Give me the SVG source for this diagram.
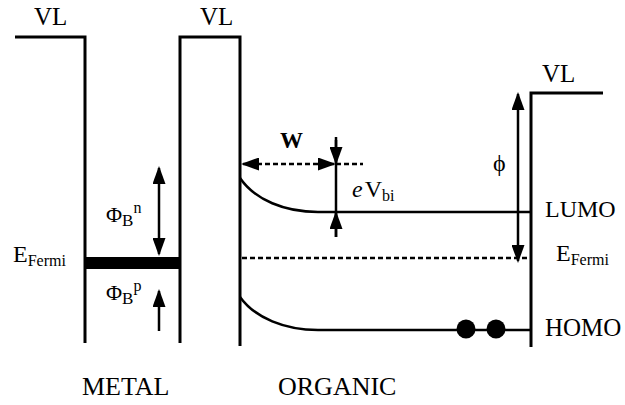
<svg xmlns="http://www.w3.org/2000/svg" width="625" height="405" viewBox="0 0 625 405">
<style>
.ln{fill:none;stroke:#000;stroke-width:3}
.thin{fill:none;stroke:#000;stroke-width:2.5}
.dash{fill:none;stroke:#000;stroke-width:2.5;stroke-dasharray:5 3}
.ar{marker-end:url(#ah)}
.ar2{marker-start:url(#ah);marker-end:url(#ah)}
text{font-family:Liberation Serif,serif}
</style>
<defs>
<marker id="ah" viewBox="0 0 18 13" refX="16" refY="6.5" markerWidth="18" markerHeight="13" markerUnits="userSpaceOnUse" orient="auto-start-reverse">
<path d="M0,0 L18,6.5 L0,13 z" fill="#000"/>
</marker>
</defs>
<rect width="625" height="405" fill="#fff"/>
<g fill="#000">
<g id="metal">
<polyline class="ln" points="15,37 85,37 85,343"/>
<rect x="85" y="257" width="95" height="12" fill="#000"/>
<text x="34" y="25" font-size="25" font-family="Liberation Serif">VL</text>
<text x="13" y="262" font-size="24" font-family="Liberation Serif">E<tspan font-size="16" dy="4">Fermi</tspan></text>
<text x="82" y="395" font-size="26" font-family="Liberation Serif">METAL</text>
</g>
<g id="barrier">
<polyline class="ln" points="180,343 180,37 240,37 240,346"/>
<text x="200" y="25" font-size="25" font-family="Liberation Serif">VL</text>
</g>
<g id="organic">
<path class="thin" d="M240,178 C255,200 285,212 318,212 L531,212"/>
<path class="thin" d="M240,297 C255,318 285,330 318,330 L531,330"/>
<polyline class="ln" points="531,347 531,93 603,93"/>
<circle cx="466" cy="329" r="9.5" fill="#000"/>
<circle cx="496" cy="329" r="9.5" fill="#000"/>
<text x="542" y="82" font-size="25" font-family="Liberation Serif">VL</text>
<text x="545" y="217" font-size="24" font-family="Liberation Serif">LUMO</text>
<text x="556" y="261" font-size="24" font-family="Liberation Serif">E<tspan font-size="16" dy="4">Fermi</tspan></text>
<text x="545" y="336" font-size="25" font-family="Liberation Serif">HOMO</text>
<text x="278" y="395" font-size="26" font-family="Liberation Serif">ORGANIC</text>
</g>
<g id="connectors">
<line class="dash" x1="242" y1="258" x2="530" y2="258"/>
<line class="thin ar2" x1="159" y1="168" x2="159" y2="254"/>
<line class="thin ar" x1="159" y1="331" x2="159" y2="291"/>
<line class="dash ar2" x1="334" y1="164" x2="243" y2="164"/>
<line class="dash" x1="336" y1="164" x2="363" y2="164"/>
<line class="thin" x1="336" y1="137" x2="336" y2="237"/>
<line class="thin ar" x1="336" y1="140" x2="336" y2="163"/>
<line class="thin ar" x1="336" y1="237" x2="336" y2="213"/>
<line class="thin ar2" x1="518" y1="94" x2="518" y2="261"/>
</g>
<g id="labels">
<text x="280" y="148" font-size="23" font-weight="bold" font-family="Liberation Serif">W</text>
<text x="352" y="197" font-size="24" font-family="Liberation Serif"><tspan font-style="italic">e</tspan><tspan dx="2">V</tspan><tspan font-size="16" dy="4">bi</tspan></text>
<text x="493" y="171" font-size="24" font-family="Liberation Serif">ϕ</text>
<text x="106" y="222" font-size="22" font-family="Liberation Serif">Φ<tspan font-size="17" dy="4">B</tspan><tspan font-size="16" dy="-13">n</tspan></text>
<text x="106" y="300" font-size="22" font-family="Liberation Serif">Φ<tspan font-size="17" dy="4">B</tspan><tspan font-size="16" dy="-13">p</tspan></text>
</g>
</g>
</svg>
